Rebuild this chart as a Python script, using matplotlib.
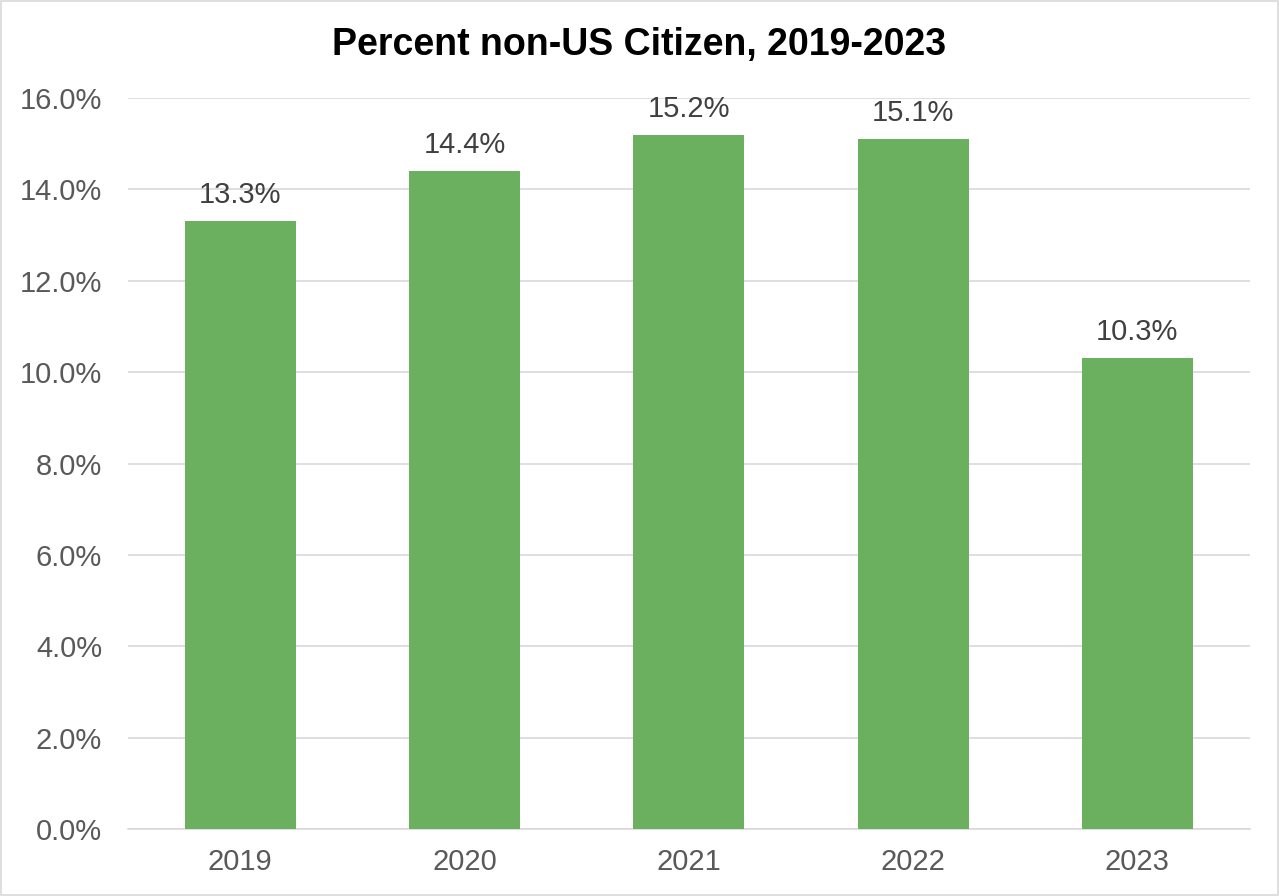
import matplotlib.pyplot as plt
from matplotlib.patches import Rectangle

# --- DATA ---
years = ['2019', '2020', '2021', '2022', '2023']
pct_non_citizen = [13.3, 14.4, 15.2, 15.1, 10.3]
y_ticks = [0, 2, 4, 6, 8, 10, 12, 14, 16]

plt.rcParams['font.family'] = ['Liberation Sans', 'DejaVu Sans']

fig = plt.figure(figsize=(12.79, 8.96), dpi=100)
ax = fig.add_axes([0.100, 0.0748, 0.877, 0.8158])

bar_color = '#6AB05E'
text_gray = '#595959'

x = range(len(years))
ax.bar(x, pct_non_citizen, width=0.495, color=bar_color, zorder=3)

# data labels above each bar
for xi, v in zip(x, pct_non_citizen):
    ax.annotate(f"{v:.1f}%", (xi, v), xytext=(0, 13), textcoords='offset points',
                ha='center', va='baseline', fontsize=21, color='#404040')

ax.set_xlim(-0.5, len(years) - 0.5)
ax.set_ylim(0, 16)
ax.set_yticks(y_ticks)
ax.set_yticklabels([f"{t:.1f}%" for t in y_ticks], fontsize=21, color=text_gray)
ax.set_xticks(list(x))
ax.set_xticklabels(years, fontsize=21, color=text_gray)

ax.grid(axis='y', color='#D9D9D9', linewidth=1.2, zorder=0)
for side in ['top', 'right', 'left']:
    ax.spines[side].set_visible(False)
ax.spines['bottom'].set_color('#D9D9D9')
ax.spines['bottom'].set_linewidth(1.2)
ax.tick_params(axis='y', length=0, pad=18.5)
ax.tick_params(axis='x', length=0, pad=14)

fig.text(0.5, 0.950, 'Percent non-US Citizen, 2019-2023', ha='center', va='center',
         fontsize=27, fontweight='bold', color='black')

# light border around the whole chart
fig.patches.append(Rectangle((0.001, 0.001), 0.998, 0.998, transform=fig.transFigure,
                             fill=False, edgecolor='#D9D9D9', linewidth=1.2))

fig.savefig('out.png', dpi=100)
